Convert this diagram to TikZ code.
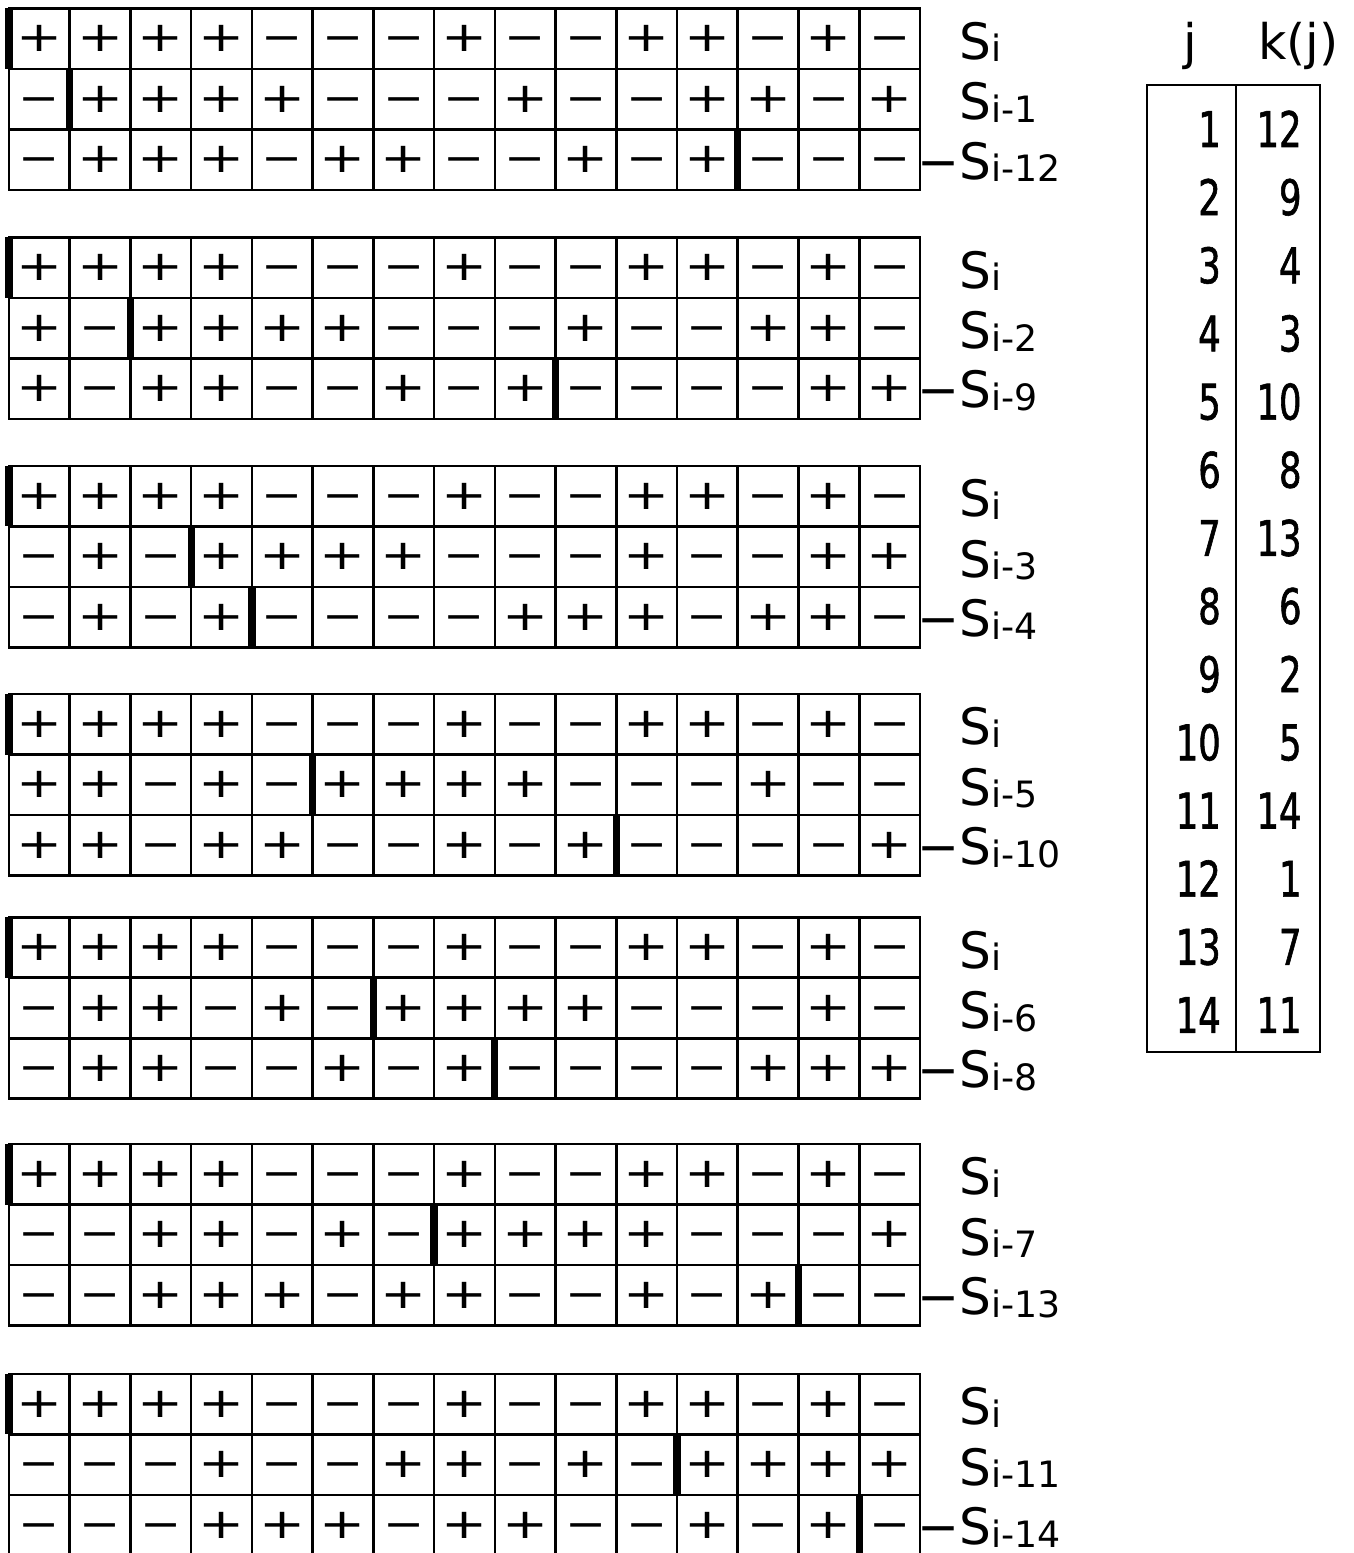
\documentclass[tikz,border=0pt]{standalone}
\usepackage{fontspec}
\newfontfamily\lblfont{DejaVu Sans}
\newfontfamily\numfont[FakeStretch=0.72, FakeBold=1.2]{DejaVu Sans}
\usetikzlibrary{calc}
\tikzset{
  cellline/.style={line width=1.2pt, black},
  shiftbar/.style={line width=3.4pt, black},
  signtxt/.style={font=\lblfont\fontsize{23}{23}\selectfont, inner sep=0pt},
  seqlbl/.style={font=\lblfont\fontsize{23.5}{28}\selectfont, anchor=base west, inner sep=0pt},
  tabnum/.style={font=\numfont\fontsize{23}{28}\selectfont, anchor=base east, inner sep=0pt},
  tabhead/.style={font=\lblfont\fontsize{23}{28}\selectfont, anchor=base, inner sep=0pt}
}
% base sequence S_i (1 = +, -1 = -)
\def\seqS{{1,1,1,1,-1,-1,-1,1,-1,-1,1,1,-1,1,-1}}
\newcommand{\sbs}[1]{\raisebox{-1.2pt}{\fontsize{17}{20}\selectfont #1}}
% one row: #1 name, #2 top y, #3 shift k, #4 sign
\newcommand{\drawseqrow}[4]{
  \foreach \n in {0,...,14} {
    \pgfmathtruncatemacro{\idx}{mod(\n-#3+15,15)}
    \pgfmathtruncatemacro{\val}{\seqS[\idx]}
    \pgfmathtruncatemacro{\val}{#4*\val}
    \ifnum\val>0 \def\sgn{\scalebox{1.12}[0.85]{+}}\else \def\sgn{\scalebox{1}[0.85]{\vphantom{+}−}}\fi
    \node[signtxt] (#1-\n) at (\n+0.5, #2-0.5) {\sgn};
  }
  \draw[shiftbar] (#3, #2) -- (#3, #2-1);
}
% one group: #1 number, #2 top y, #3 k of 2nd row, #4 k of 3rd row
\newcommand{\drawgroup}[4]{
  \draw[cellline] (0,#2) rectangle (15,#2-3);
  \foreach \r in {1,2} \draw[cellline] (0,#2-\r) -- (15,#2-\r);
  \foreach \c in {1,...,14} \draw[cellline] (\c,#2) -- (\c,#2-3);
  \drawseqrow{g#1a}{#2}{0}{1}
  \drawseqrow{g#1b}{#2-1}{#3}{1}
  \drawseqrow{g#1c}{#2-2}{#4}{-1}
  \node[seqlbl] (lbl#1a) at (15.64, #2-0.84) {S\sbs{i}};
  \node[seqlbl] (lbl#1b) at (15.64, #2-1.84) {S\sbs{i-#3}};
  \node[seqlbl] (lbl#1c) at (15.64, #2-2.82) {\llap{−}S\sbs{i-#4}};
}
\begin{document}
\begin{tikzpicture}[x=1cm, y=0.9962cm]
\useasboundingbox (-0.148,0.1405) rectangle (22.131,-25.529);

% Sequence groups
\foreach \g/\ytop/\ka/\kb in {1/0/1/12, 2/-3.782/2/9, 3/-7.562/3/4, 4/-11.331/5/10, 5/-15.021/6/8, 6/-18.769/7/13, 7/-22.570/11/14} {
  \drawgroup{\g}{\ytop}{\ka}{\kb}
}

% Table j / k(j)
\draw[line width=1pt] (18.74,-1.264) rectangle (21.59,-17.248);
\draw[line width=1pt] (20.20,-1.264) -- (20.20,-17.248);
\node[tabhead] (jhead) at (19.45,-0.851) {j};
\node[tabhead] (khead) at (21.23,-0.851) {k(j)};
\foreach \j/\k [count=\r from 0] in {1/12, 2/9, 3/4, 4/3, 5/10, 6/8, 7/13, 8/6, 9/2, 10/5, 11/14, 12/1, 13/7, 14/11} {
  \node[tabnum] (j\j) at (19.96, -2.289-1.1264*\r) {\j};
  \node[tabnum] (k\j) at (21.29, -2.289-1.1264*\r) {\k};
}

\end{tikzpicture}
\end{document}
